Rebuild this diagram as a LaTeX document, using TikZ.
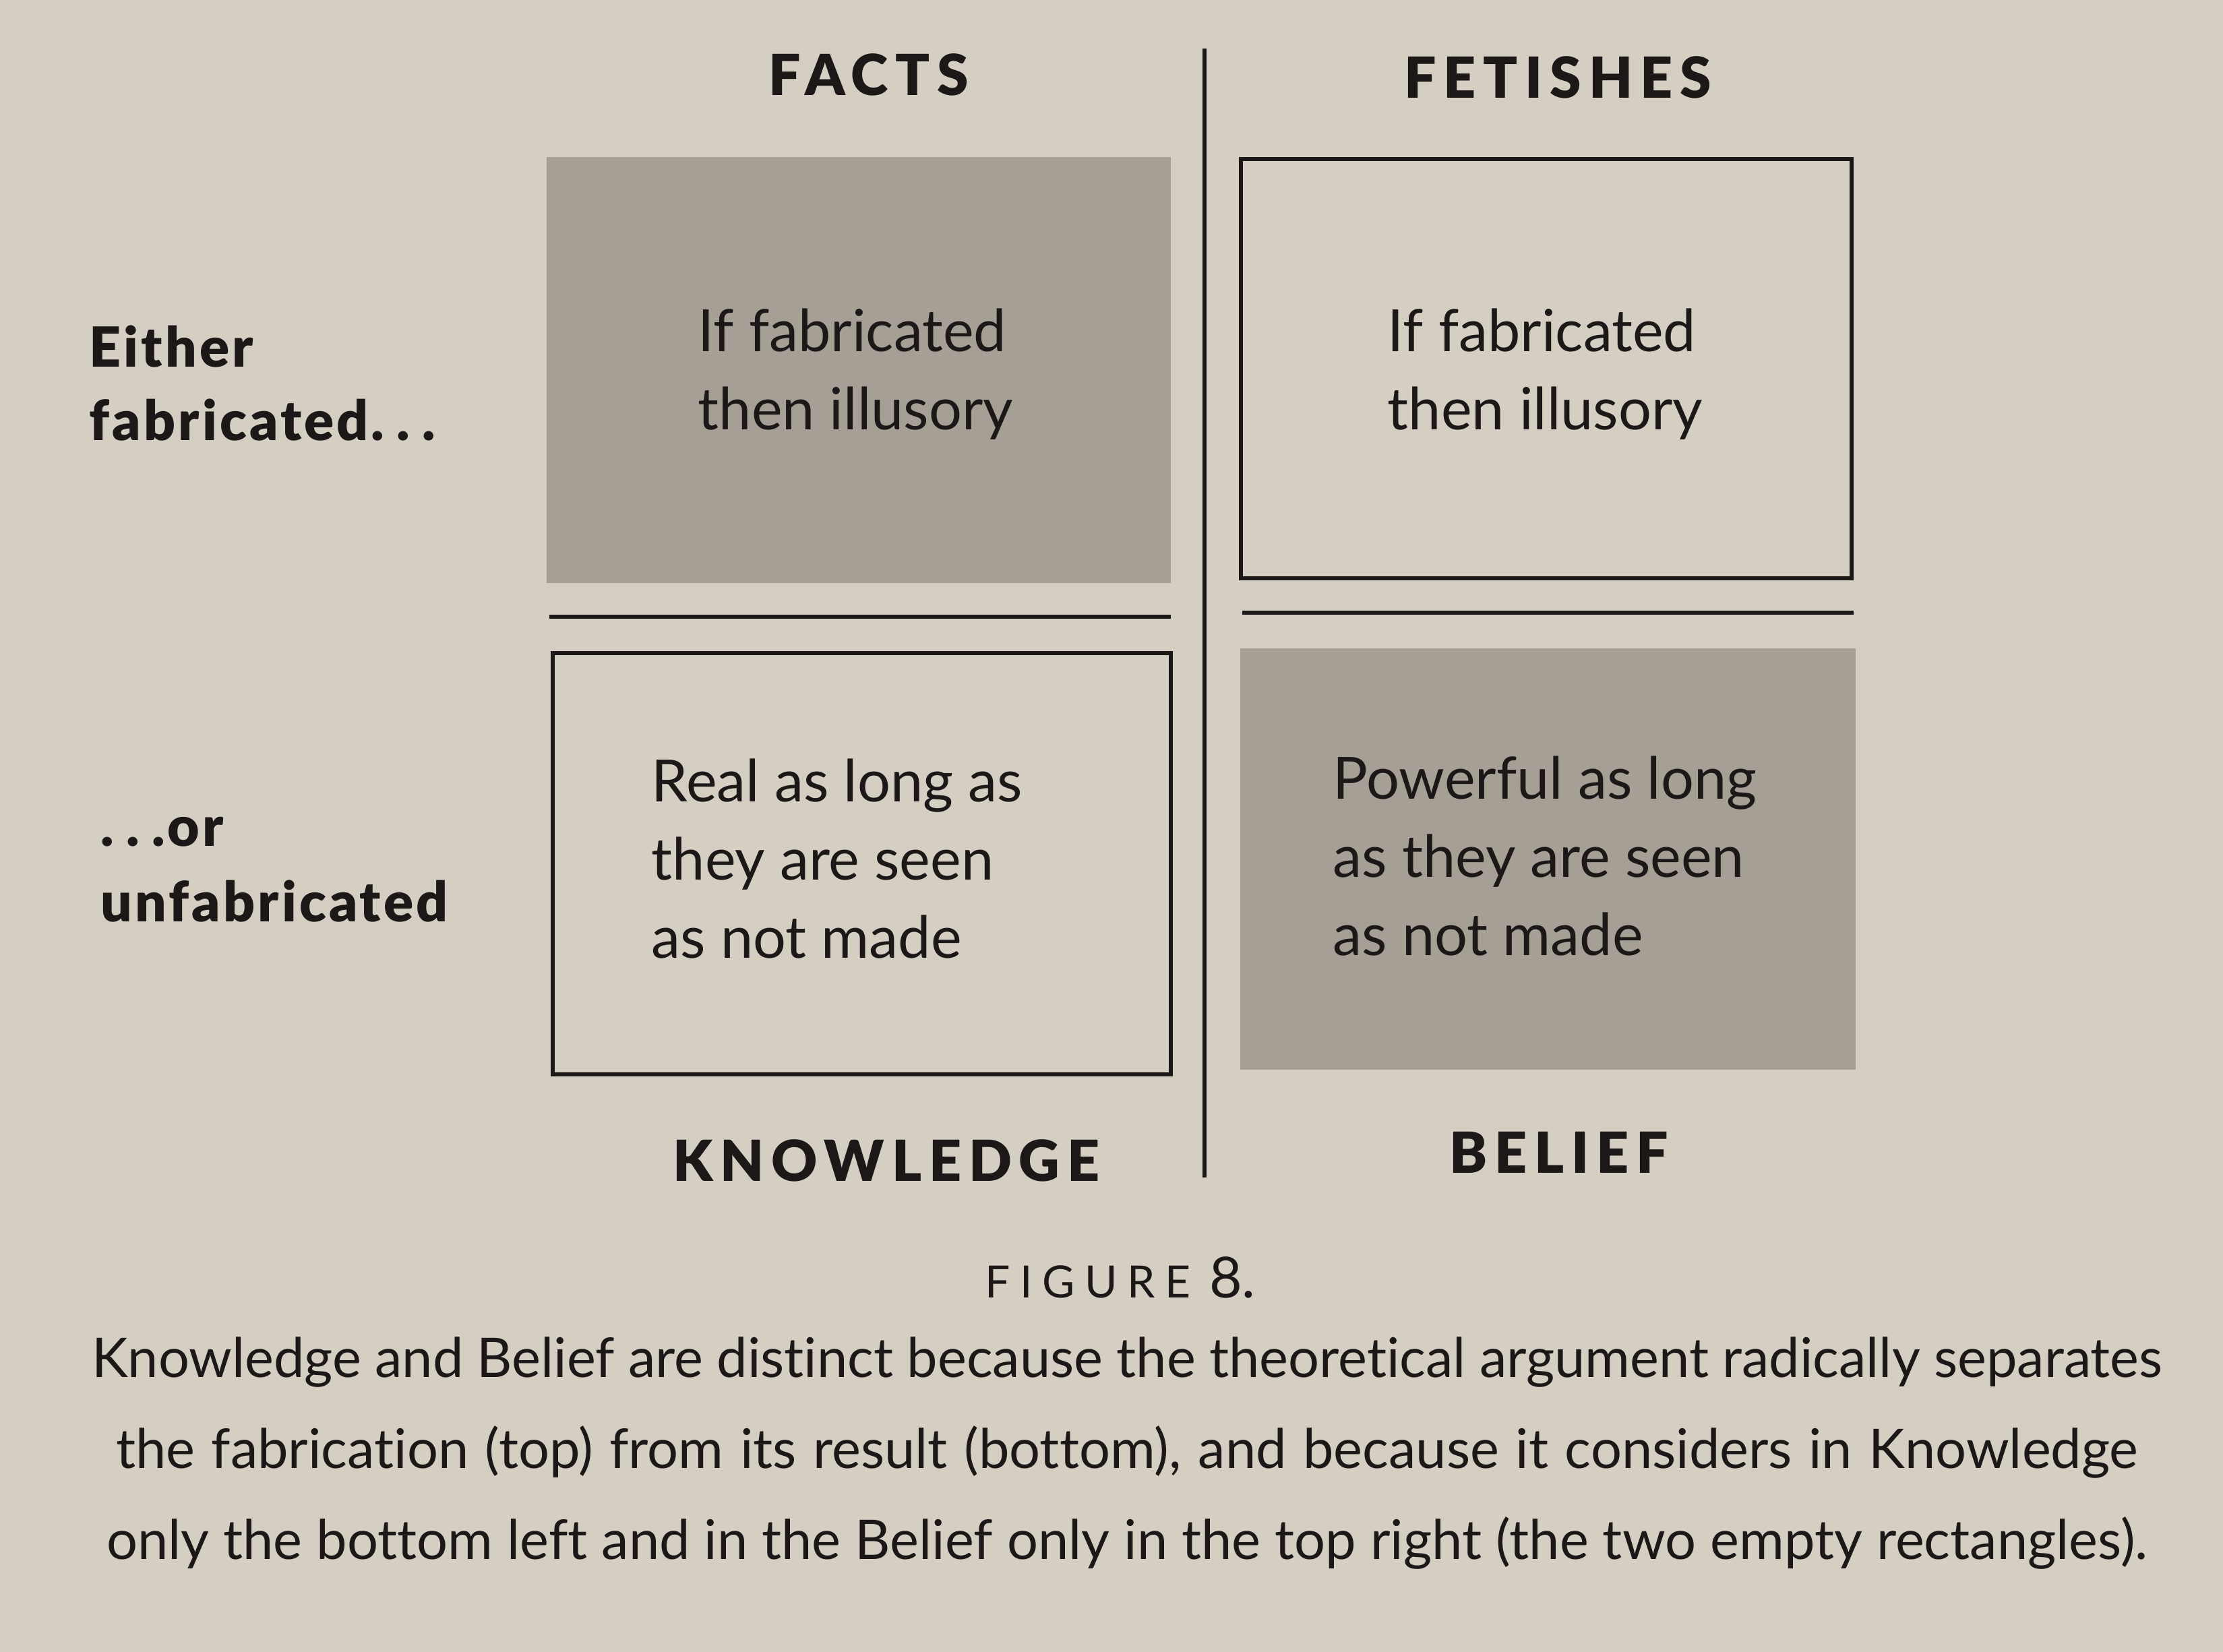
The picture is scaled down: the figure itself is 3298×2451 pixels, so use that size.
\documentclass[tikz,border=0pt]{standalone}
\usepackage{fontspec}
\usetikzlibrary{fit}
\setmainfont{Lato}[Ligatures=NoCommon]
\newfontfamily\headfont{Lato}[LetterSpace=13, BoldFont={Lato Black}]
\newfontfamily\sidefont{Lato}[LetterSpace=5, BoldFont={Lato Black}]
\newfontfamily\smallcapsfont{Lato}[LetterSpace=22]

\definecolor{paper}{RGB}{213,207,195}
\definecolor{halftone}{RGB}{165,159,149}
\definecolor{ink}{RGB}{28,24,24}

\tikzset{
  cellshaded/.style={fill=halftone, draw=none, inner sep=0pt},
  cellframed/.style={draw=ink, line width=1.5pt, inner sep=0pt},
  rule/.style={draw=ink, line width=1.6pt},
  heading/.style={inner sep=0pt, anchor=base, text=ink, font=\headfont\bfseries\fontsize{21}{25}\selectfont},
  sidelabel/.style={inner sep=0pt, anchor=base west, text=ink, font=\sidefont\bfseries\fontsize{20.5}{25}\selectfont},
  celltext/.style={inner sep=0pt, anchor=base west, text=ink, font=\fontsize{21.6}{29}\selectfont},
  captext/.style={inner sep=0pt, anchor=base, text=ink, font=\fontsize{20.3}{25}\selectfont},
}
\newcommand{\celllines}[1]{\parbox[t]{170pt}{\raggedright #1}}
\newcommand{\spdots}{.\hspace{0.22em}.\hspace{0.22em}.}
\newcommand{\capline}[2]{\makebox[#1][s]{#2}}

\begin{document}
\begin{tikzpicture}[x=0.25pt, y=-0.25pt]
  % page
  \fill[paper] (0,0) rectangle (3298,2451);
  \useasboundingbox (0,0) rectangle (3298,2451);

  % corner points of the four cells
  \coordinate (tlA) at (811,233);  \coordinate (tlB) at (1737,865);
  \coordinate (trA) at (1841,236); \coordinate (trB) at (2747,858);
  \coordinate (blA) at (820,969);  \coordinate (blB) at (1737,1594);
  \coordinate (brA) at (1840,962); \coordinate (brB) at (2753,1587);

  % cells
  \node[cellshaded, fit=(tlA)(tlB)] (factsTop) {};
  \node[cellframed, fit=(trA)(trB)] (fetishTop) {};
  \node[cellframed, fit=(blA)(blB)] (factsBottom) {};
  \node[cellshaded, fit=(brA)(brB)] (fetishBottom) {};

  % dividing rules
  \coordinate (vTop) at (1787,72);   \coordinate (vBot) at (1787,1747);
  \coordinate (hlA) at (815,915);    \coordinate (hlB) at (1737,915);
  \coordinate (hrA) at (1843,909);   \coordinate (hrB) at (2750,909);
  \draw[rule] (vTop) -- (vBot);
  \draw[rule] (hlA) -- (hlB);
  \draw[rule] (hrA) -- (hrB);

  % column headings
  \node[heading] (facts) at (1289,142) {FACTS};
  \node[heading] (fetishes) at (2311,146) {FETISHES};
  \node[heading] (knowledge) at (1315,1752) {KNOWLEDGE};
  \node[heading] (belief) at (2313,1740) {BELIEF};

  % row labels
  \node[sidelabel] (either) at (132,544) {Either};
  \node[sidelabel] (fabricated) at (132,653) {fabricated\spdots};
  \node[sidelabel] (orlabel) at (149,1255) {\spdots or};
  \node[sidelabel] (unfabricated) at (149,1367) {unfabricated};

  % cell texts
  \node[celltext] (tlText) at (1035,521) {\celllines{If fabricated\\then illusory}};
  \node[celltext] (trText) at (2058,521) {\celllines{If fabricated\\then illusory}};
  \node[celltext] (blText) at (966,1189) {\celllines{Real as long as\\they are seen\\as not made}};
  \node[celltext] (brText) at (1977,1185) {\celllines{Powerful as long\\as they are seen\\as not made}};

  % figure number and caption
  \node[inner sep=0pt, anchor=base, text=ink] (fignum) at (1662,1925)
    {{\smallcapsfont\fontsize{16.5}{20}\selectfont FIGURE}\hspace{7pt}{\fontsize{21}{25}\selectfont 8.}};
  \node[captext] (cap1) at (1672,2043) {\capline{768pt}{Knowledge and Belief are distinct because the theoretical argument radically separates}};
  \node[captext] (cap2) at (1672,2178) {\capline{750pt}{the fabrication (top) from its result (bottom), and because it considers in Knowledge}};
  \node[captext] (cap3) at (1672,2313) {\capline{757pt}{only the bottom left and in the Belief only in the top right (the two empty rectangles).}};
\end{tikzpicture}
\end{document}
